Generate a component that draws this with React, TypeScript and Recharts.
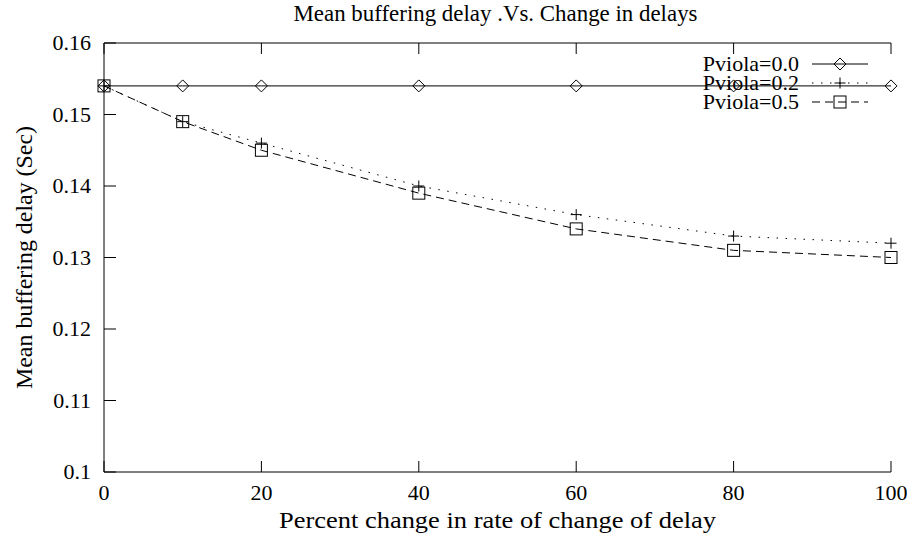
import React from 'react';
import { LineChart, Line, XAxis, YAxis, Legend, Label } from 'recharts';

const FONT = '"Liberation Serif", "DejaVu Serif", serif';
const FS = 22;

// percent change in rate of change of delay
const changes = [0, 10, 20, 40, 60, 80, 100];
// mean buffering delay (sec) per Pviola
const pviola00 = [0.154, 0.154, 0.154, 0.154, 0.154, 0.154, 0.154];
const pviola02 = [0.154, 0.149, 0.146, 0.14, 0.136, 0.133, 0.132];
const pviola05 = [0.154, 0.149, 0.145, 0.139, 0.134, 0.131, 0.13];

const xTicks = [0, 20, 40, 60, 80, 100];
const yTicks = [0.1, 0.11, 0.12, 0.13, 0.14, 0.15, 0.16];

const data = changes.map((c, i) => ({
  change: c,
  p00: pviola00[i],
  p02: pviola02[i],
  p05: pviola05[i],
}));

type Marker = 'diamond' | 'plus' | 'square';

const series: { key: string; name: string; dash?: string; marker: Marker }[] = [
  { key: 'p00', name: 'Pviola=0.0', marker: 'diamond' },
  { key: 'p02', name: 'Pviola=0.2', dash: '1.5 7.5', marker: 'plus' },
  { key: 'p05', name: 'Pviola=0.5', dash: '8 5', marker: 'square' },
];

function MarkerShape({ cx, cy, type }: { cx: number; cy: number; type: Marker }) {
  if (type === 'diamond') {
    return (
      <path
        d={`M${cx},${cy - 6} L${cx + 6},${cy} L${cx},${cy + 6} L${cx - 6},${cy} Z`}
        fill="none"
        stroke="#000"
        strokeDasharray="none"
      />
    );
  }
  if (type === 'plus') {
    return (
      <path
        d={`M${cx - 5.5},${cy} H${cx + 5.5} M${cx},${cy - 5.5} V${cy + 5.5}`}
        fill="none"
        stroke="#000"
        strokeDasharray="none"
      />
    );
  }
  return <rect x={cx - 6} y={cy - 6} width={12} height={12} fill="none" stroke="#000" strokeDasharray="none" />;
}

const dotFor = (type: Marker) => (props: any) => {
  if (props.cx == null || props.cy == null) return <g key={props.index} />;
  return <MarkerShape key={props.index} cx={props.cx} cy={props.cy} type={type} />;
};

const textStyle = { fontFamily: FONT, fontSize: FS, fill: '#000' };

const LeftTick = (props: any) => (
  <text x={props.x} y={props.y} dy={7} textAnchor="end" style={textStyle}>
    {String(props.payload.value)}
  </text>
);

const BottomTick = (props: any) => (
  <text x={props.x} y={props.y} textAnchor="middle" style={textStyle}>
    {String(props.payload.value)}
  </text>
);

const NoTick = () => <g />;

const LegendBox = () => (
  <svg width={220} height={64}>
    {series.map((s, i) => {
      const cy = 12 + i * 19;
      return (
        <g key={s.key}>
          <text x={109} y={cy + 7} textAnchor="end" style={textStyle}>
            {s.name}
          </text>
          <line x1={122} x2={178} y1={cy} y2={cy} stroke="#000" strokeDasharray={s.dash} />
          <MarkerShape cx={150} cy={cy} type={s.marker} />
        </g>
      );
    })}
  </svg>
);

export default function App() {
  return (
    <div style={{ position: 'absolute', left: 0, top: 0, background: '#fff' }}>
      <LineChart width={911} height={536} data={data} margin={{ top: 0, right: 20, bottom: 0, left: 0 }}>
        <XAxis
          xAxisId="bottom"
          dataKey="change"
          type="number"
          domain={[0, 100]}
          ticks={xTicks}
          height={64}
          stroke="#000"
          tickSize={-11}
          tickMargin={39}
          tick={BottomTick}
          interval={0}
        >
          <Label
            content={(p: any) => (
              <text
                x={p.viewBox.x + p.viewBox.width / 2}
                y={p.viewBox.y + 56}
                textAnchor="middle"
                textLength={437}
                lengthAdjust="spacingAndGlyphs"
                style={{ ...textStyle, fontSize: 23.5 }}
              >
                Percent change in rate of change of delay
              </text>
            )}
          />
        </XAxis>
        <XAxis
          xAxisId="top"
          orientation="top"
          dataKey="change"
          type="number"
          domain={[0, 100]}
          ticks={xTicks}
          height={43}
          stroke="#000"
          tickSize={-11}
          tick={NoTick}
          interval={0}
        >
          <Label
            content={(p: any) => (
              <text
                x={p.viewBox.x + p.viewBox.width / 2 - 2}
                y={p.viewBox.y + p.viewBox.height - 22}
                textAnchor="middle"
                textLength={404}
                lengthAdjust="spacingAndGlyphs"
                style={{ ...textStyle, fontSize: 22.5 }}
              >
                Mean buffering delay .Vs. Change in delays
              </text>
            )}
          />
        </XAxis>
        <YAxis
          yAxisId="left"
          type="number"
          domain={[0.1, 0.16]}
          ticks={yTicks}
          width={104}
          stroke="#000"
          tickSize={-12}
          tickMargin={25}
          tick={LeftTick}
          interval={0}
        >
          <Label
            content={(p: any) => {
              const cx = p.viewBox.x + 32;
              const cy = p.viewBox.y + p.viewBox.height / 2;
              return (
                <text
                  x={cx}
                  y={cy}
                  transform={`rotate(-90 ${cx} ${cy})`}
                  textAnchor="middle"
                  textLength={263}
                  lengthAdjust="spacingAndGlyphs"
                  style={{ ...textStyle, fontSize: 23.5 }}
                >
                  Mean buffering delay (Sec)
                </text>
              );
            }}
          />
        </YAxis>
        <YAxis
          yAxisId="right"
          orientation="right"
          type="number"
          domain={[0.1, 0.16]}
          ticks={yTicks}
          width={0}
          stroke="#000"
          tickSize={-12}
          tick={NoTick}
          interval={0}
        />
        <Legend
          layout="horizontal"
          verticalAlign="middle"
          align="center"
          content={LegendBox}
          wrapperStyle={{ position: 'absolute', left: 690, top: 52, width: 220, height: 64 }}
        />
        {series.map((s) => (
          <Line
            key={s.key}
            xAxisId="bottom"
            yAxisId="left"
            type="linear"
            dataKey={s.key}
            name={s.name}
            stroke="#000"
            strokeWidth={1}
            strokeDasharray={s.dash}
            dot={dotFor(s.marker)}
            activeDot={false}
            isAnimationActive={false}
          />
        ))}
      </LineChart>
    </div>
  );
}
